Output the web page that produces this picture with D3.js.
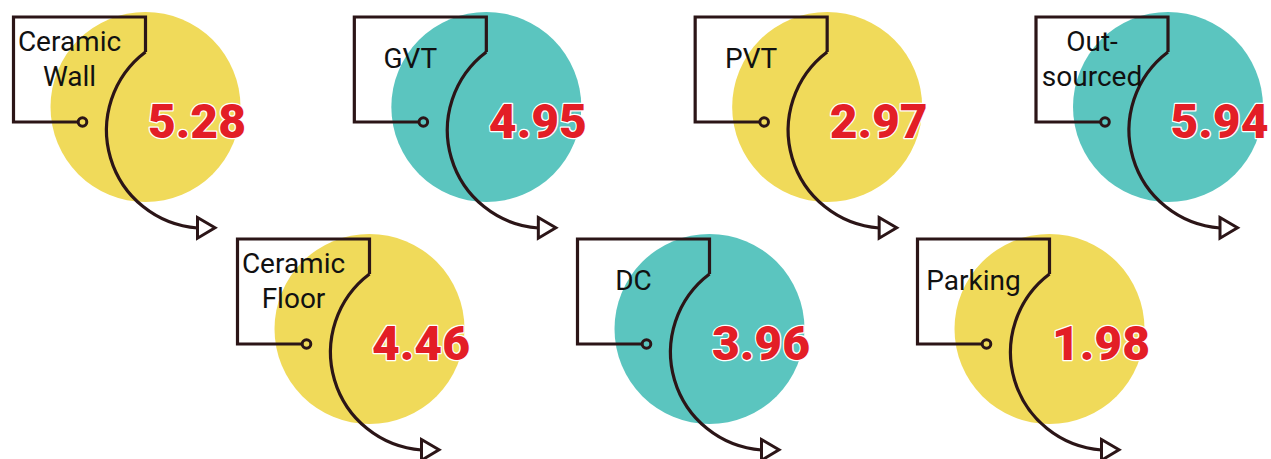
<!DOCTYPE html>
<html>
<head>
<meta charset="utf-8">
<script src="https://cdn.jsdelivr.net/npm/d3@7/dist/d3.min.js"></script>
<style>
  html, body { margin: 0; padding: 0; background: #ffffff; }
  svg { display: block; }
</style>
</head>
<body>
<svg id="chart" width="1271" height="459"></svg>
<script>
// Category labels (one entry per line of text), values and fill colours
const labels = [
  ["Ceramic", "Wall"],
  ["GVT"],
  ["PVT"],
  ["Out-", "sourced"],
  ["Ceramic", "Floor"],
  ["DC"],
  ["Parking"]
];
const values = [5.28, 4.95, 2.97, 5.94, 4.46, 3.96, 1.98];
const palette = ["#f0da5a", "#5bc5bf"];

const W = 1271, H = 459;
const svg = d3.select("#chart");

// Two rows: four bubbles on top, three below, offset to the right
const perRow = [4, 3];
const rowY = d3.scaleOrdinal().domain([0, 1]).range([107, 329]);
const colTop = d3.scaleLinear().domain([0, 3]).range([145.5, 1168]);
const colBottom = d3.scaleLinear().domain([0, 2]).range([369.5, 1049.5]);

const items = values.map((v, i) => {
  const row = i < perRow[0] ? 0 : 1;
  const col = row === 0 ? i : i - perRow[0];
  return {
    value: v,
    lines: labels[i],
    color: palette[i % 2],
    cx: row === 0 ? colTop(col) : colBottom(col),
    cy: rowY(row)
  };
});

const R = 95;
const ink = "#2b1517";

const g = svg.selectAll("g.item")
  .data(items)
  .join("g")
  .attr("class", "item")
  .attr("transform", d => `translate(${d.cx},${d.cy})`);

// Bubble
g.append("circle")
  .attr("r", R)
  .attr("fill", d => d.color);

// Label frame: open box that ends in a ringed dot
g.append("path")
  .attr("d", () => {
    const p = d3.path();
    p.moveTo(-67.5, 15);
    p.lineTo(-132, 15);
    p.lineTo(-132, -90);
    p.lineTo(0, -90);
    p.lineTo(0, -55);
    return p.toString();
  })
  .attr("fill", "none")
  .attr("stroke", ink)
  .attr("stroke-width", 3.2)
  .attr("stroke-linejoin", "miter");

g.append("circle")
  .attr("cx", -63)
  .attr("cy", 15)
  .attr("r", 4.3)
  .attr("fill", "none")
  .attr("stroke", ink)
  .attr("stroke-width", 3);

// Curved connector sweeping round the bubble to an arrow
g.append("path")
  .attr("d", "M0,-55 A98,98 0 0 0 52,121")
  .attr("fill", "none")
  .attr("stroke", ink)
  .attr("stroke-width", 3.2);

g.append("path")
  .attr("d", "M52,110.5 L69.5,120.8 L52,131.2 Z")
  .attr("fill", "#ffffff")
  .attr("stroke", ink)
  .attr("stroke-width", 3)
  .attr("stroke-linejoin", "miter");

// Category name
g.each(function (d) {
  const n = d.lines.length;
  const spacing = 35;
  const t = d3.select(this).append("text")
    .attr("text-anchor", "middle")
    .attr("font-family", "Roboto, 'Noto Sans', sans-serif")
    .attr("font-size", 28)
    .attr("fill", "#111111");
  d.lines.forEach((line, k) => {
    t.append("tspan")
      .attr("x", -76)
      .attr("y", -39 + (k - (n - 1) / 2) * spacing)
      .text(line);
  });
});

// Value
g.append("text")
  .attr("x", 2.5)
  .attr("y", 31)
  .attr("font-family", "Roboto, 'Noto Sans', sans-serif")
  .attr("font-weight", 900)
  .attr("font-size", 48)
  .attr("fill", "#e31e26")
  .attr("stroke", "#ffffff")
  .attr("stroke-width", 2.5)
  .attr("paint-order", "stroke")
  .attr("stroke-linejoin", "round")
  .text(d => d3.format(".2f")(d.value));
</script>
</body>
</html>
